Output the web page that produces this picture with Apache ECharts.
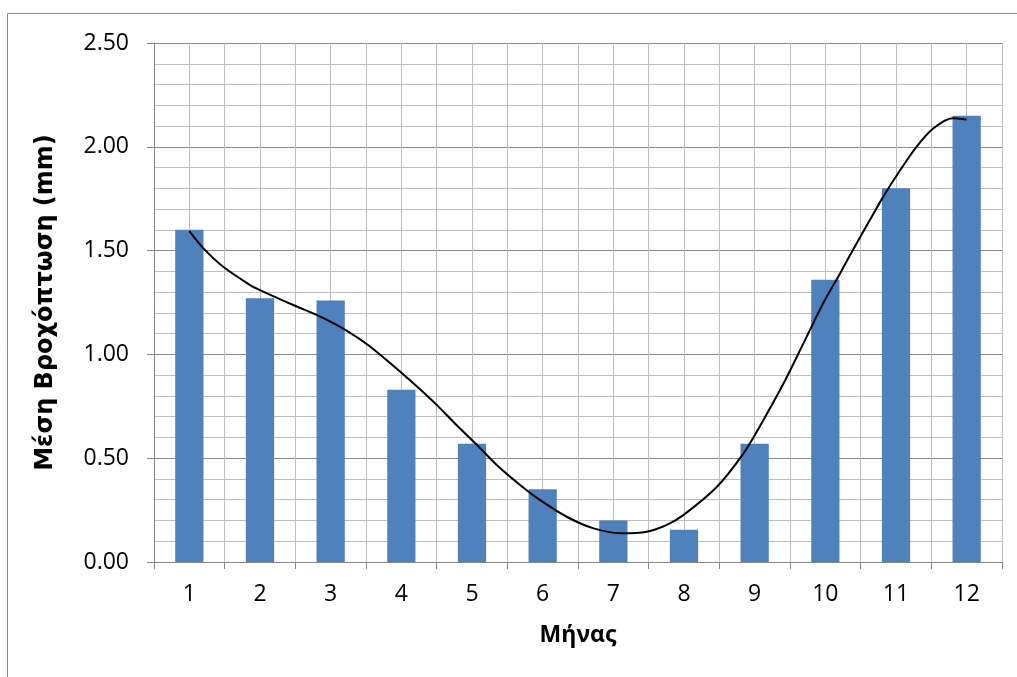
<!DOCTYPE html>
<html>
<head>
<meta charset="utf-8">
<script src="https://cdn.jsdelivr.net/npm/echarts@6/dist/echarts.min.js"></script>
<style>
html,body{margin:0;padding:0;background:#fff;}
#chart{width:1017px;height:677px;}
</style>
</head>
<body>
<div id="chart"></div>
<script>
const months = ['1','2','3','4','5','6','7','8','9','10','11','12'];
const rainfall = [1.60, 1.27, 1.26, 0.83, 0.57, 0.35, 0.20, 0.155, 0.57, 1.36, 1.80, 2.15];
// trend curve at the month positions shown
const trendX = [1.0, 1.2, 1.48, 1.86, 2.0, 2.47, 2.8, 3.01, 3.27, 3.51, 3.79, 4.17, 4.5, 4.78, 5.07, 5.35, 5.68, 5.96, 6.34, 6.72, 7.14, 7.47, 7.75, 7.99, 8.46, 8.84, 9.07, 9.41, 9.69, 9.97, 10.21, 10.39, 10.63, 10.82, 11.06, 11.29, 11.53, 11.8, 12.0];
const trendY = [1.594, 1.511, 1.422, 1.334, 1.31, 1.238, 1.19, 1.155, 1.105, 1.05, 0.973, 0.861, 0.757, 0.66, 0.564, 0.467, 0.371, 0.299, 0.218, 0.162, 0.138, 0.146, 0.178, 0.226, 0.36, 0.522, 0.652, 0.861, 1.053, 1.246, 1.391, 1.503, 1.647, 1.76, 1.888, 2.0, 2.089, 2.138, 2.132];
const yTitle = 'Μέση Βροχόπτωση (mm)';
const xTitle = 'Μήνας';

const FONT = '"Open Sans", sans-serif';
const chart = echarts.init(document.getElementById('chart'));
chart.setOption({
  animation: false,
  backgroundColor: '#ffffff',
  graphic: [{
    type: 'rect',
    shape: {x: 7.5, y: 13.5, width: 1100, height: 800},
    style: {fill: 'none', stroke: '#8a8a8a', lineWidth: 1},
    silent: true, z: -10
  }],
  grid: {left: 154, top: 43, right: 15, bottom: 115, containLabel: false},
  xAxis: [{
    type: 'category',
    data: months,
    boundaryGap: true,
    name: xTitle,
    nameLocation: 'middle',
    nameGap: 62,
    nameTextStyle: {fontFamily: FONT, fontSize: 23, fontWeight: 'bold', color: '#000'},
    axisLine: {lineStyle: {color: '#868686', width: 1}},
    axisTick: {show: true, alignWithLabel: false, length: 7, lineStyle: {color: '#868686'}},
    axisLabel: {fontFamily: FONT, fontSize: 23, color: '#000', margin: 21},
    splitLine: {show: false}
  }, {
    type: 'value',
    min: 0.5, max: 12.5, interval: 0.5,
    position: 'bottom',
    show: true,
    axisLine: {show: false}, axisTick: {show: false}, axisLabel: {show: false},
    splitLine: {show: true, lineStyle: {color: '#bfbfbf', width: 1}}
  }],
  yAxis: [{
    type: 'value',
    min: 0, max: 2.5, interval: 0.5,
    name: yTitle,
    nameLocation: 'middle',
    nameGap: 96,
    nameTextStyle: {fontFamily: '"DejaVu Sans", sans-serif', fontSize: 24, fontWeight: 'bold', color: '#000'},
    axisLine: {show: true, lineStyle: {color: '#868686', width: 1}},
    axisTick: {show: true, length: 7, lineStyle: {color: '#868686'}},
    axisLabel: {fontFamily: FONT, fontSize: 23, color: '#000', margin: 25, formatter: v => v.toFixed(2)},
    splitLine: {show: true, lineStyle: {color: '#8c8c8c', width: 1}},
    minorTick: {show: false, splitNumber: 5},
    minorSplitLine: {show: true, lineStyle: {color: '#bfbfbf', width: 1}}
  }],
  series: [{
    type: 'bar',
    xAxisIndex: 0,
    data: rainfall,
    barWidth: '40%',
    itemStyle: {color: '#4f81bd'},
    z: 3
  }, {
    type: 'line',
    xAxisIndex: 1,
    data: trendX.map((x, i) => [x, trendY[i]]),
    smooth: 0.3,
    showSymbol: false,
    lineStyle: {color: '#000', width: 2},
    z: 4
  }]
});
</script>
</body>
</html>
